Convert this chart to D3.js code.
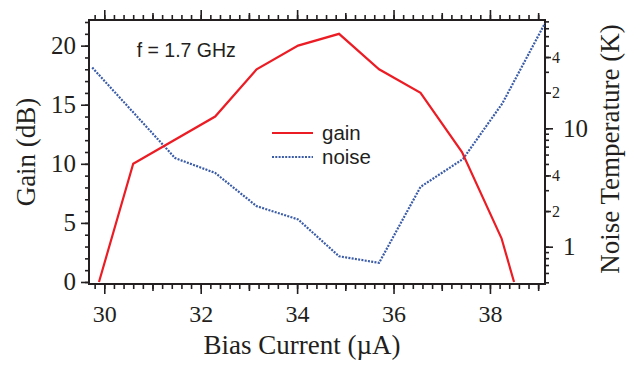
<!DOCTYPE html>
<html>
<head>
<meta charset="utf-8">
<script src="https://cdn.jsdelivr.net/npm/d3@7"></script>
<style>
	body { margin: 0; background: #fff; }
	svg { display: block; }
	.serif { font-family: "Liberation Serif", "Times New Roman", serif; fill: #231f20; }
	.sans { font-family: "Liberation Sans", Arial, sans-serif; fill: #231f20; }
</style>
</head>
<body>
<div id="chart"></div>
<script>
// bias current (uA) for the gain curve, and gain (dB)
const gainBias = [29.89, 30.60, 32.30, 33.16, 34.02, 34.87, 35.70, 36.56, 37.42, 38.24, 38.50];
const gainDb = [0, 10, 14, 18, 20, 21, 18, 16, 11, 3.7, 0];

// bias current (uA) for the noise curve, and noise temperature (K)
const noiseBias = [29.75, 31.47, 32.30, 33.16, 34.02, 34.87, 35.70, 36.56, 37.44, 38.26, 39.14];
const noiseK = [32.6, 5.6, 4.2, 2.2, 1.7, 0.83, 0.73, 3.2, 5.5, 16.3, 77];

const xTicks = [30, 32, 34, 36, 38];
const gainTicks = [0, 5, 10, 15, 20];
const noiseBigTicks = [1, 10];
const noiseSmallTicks = [2, 4, 20, 40];

const W = 634, H = 366;
const margin = { top: 20, right: 89, bottom: 82, left: 89 };
const width = W - margin.left - margin.right;
const height = H - margin.top - margin.bottom;
const ink = "#231f20";

const svg = d3.select("#chart").append("svg")
	.attr("width", W)
	.attr("height", H);

const x = d3.scaleLinear().domain([29.683, 39.142]).range([0, width]);
const yGain = d3.scaleLinear().domain([-0.17, 22.17]).range([height, 0]);
const yNoise = d3.scaleLog().domain([0.484, 82.2]).range([height, 0]);

const g = svg.append("g")
	.attr("transform", "translate(" + margin.left + "," + margin.top + ")");

// minor tick helpers
let xMinor = d3.range(29.8, 39.1, 0.2).map(function (d) { return +d.toFixed(1); });
let xMid = d3.range(31, 40, 2);
let gainMinor = d3.range(0, 23, 1);
let noiseMinor = [];
[0.1, 1, 10].forEach(function (dec) {
	for (let k = 1; k < 10; k++) {
		let v = +(dec * k).toFixed(2);
		if (v >= 0.484 && v <= 82.2) noiseMinor.push(v);
	}
});

function tickAxis(axisFn, scale, values, size) {
	return axisFn(scale).tickValues(values).tickSize(size).tickFormat("");
}

function styleAxis(sel) {
	sel.select(".domain").remove();
	sel.selectAll("line").attr("stroke", ink).attr("stroke-width", 1.6);
}

// bottom ticks
g.append("g").attr("transform", "translate(0," + height + ")")
	.call(tickAxis(d3.axisBottom, x, xMinor, 5)).call(styleAxis);
g.append("g").attr("transform", "translate(0," + height + ")")
	.call(tickAxis(d3.axisBottom, x, xMid, 7)).call(styleAxis);
g.append("g").attr("transform", "translate(0," + height + ")")
	.call(d3.axisBottom(x).tickValues(xTicks).tickSize(10).tickPadding(11))
	.call(styleAxis)
	.selectAll("text")
	.attr("class", "serif")
	.style("font-size", "24px")
	.attr("fill", ink);

// top ticks (mirror)
g.append("g").call(tickAxis(d3.axisTop, x, xMinor, 5)).call(styleAxis);
g.append("g").call(tickAxis(d3.axisTop, x, xMid, 7)).call(styleAxis);
g.append("g").call(tickAxis(d3.axisTop, x, xTicks, 10)).call(styleAxis);

// left gain axis
g.append("g").call(tickAxis(d3.axisLeft, yGain, gainMinor, 4)).call(styleAxis);
g.append("g")
	.call(d3.axisLeft(yGain).tickValues(gainTicks).tickSize(8).tickPadding(5))
	.call(styleAxis)
	.selectAll("text")
	.attr("class", "serif")
	.style("font-size", "25px")
	.attr("fill", ink);

// right noise axis (log)
g.append("g").attr("transform", "translate(" + width + ",0)")
	.call(tickAxis(d3.axisRight, yNoise, noiseMinor, 4)).call(styleAxis);
g.append("g").attr("transform", "translate(" + width + ",0)")
	.call(d3.axisRight(yNoise).tickValues(noiseSmallTicks).tickSize(6).tickPadding(1)
		.tickFormat(function (d) { return String(d)[0]; }))
	.call(styleAxis)
	.selectAll("text")
	.attr("class", "serif")
	.style("font-size", "16px")
	.attr("fill", ink);
g.append("g").attr("transform", "translate(" + width + ",0)")
	.call(d3.axisRight(yNoise).tickValues(noiseBigTicks).tickSize(8).tickPadding(10)
		.tickFormat(d3.format("d")))
	.call(styleAxis)
	.selectAll("text")
	.attr("class", "serif")
	.style("font-size", "25px")
	.attr("fill", ink);

// frame
g.append("rect")
	.attr("width", width)
	.attr("height", height)
	.attr("fill", "none")
	.attr("stroke", ink)
	.attr("stroke-width", 2);

// curves
let gainPts = gainBias.map(function (b, i) { return [b, gainDb[i]]; });
let noisePts = noiseBias.map(function (b, i) { return [b, noiseK[i]]; });

g.append("path")
	.datum(noisePts)
	.attr("fill", "none")
	.attr("stroke", "#3a5ca8")
	.attr("stroke-width", 2.2)
	.attr("stroke-dasharray", "2,1.3")
	.attr("d", d3.line().x(function (d) { return x(d[0]); }).y(function (d) { return yNoise(d[1]); }));

g.append("path")
	.datum(gainPts)
	.attr("fill", "none")
	.attr("stroke", "#ec1c24")
	.attr("stroke-width", 2.2)
	.attr("stroke-linejoin", "miter")
	.attr("d", d3.line().x(function (d) { return x(d[0]); }).y(function (d) { return yGain(d[1]); }));

// annotation + legend
g.append("text").attr("class", "sans")
	.attr("x", 136.7 - margin.left).attr("y", 56.5 - margin.top)
	.style("font-size", "19.5px")
	.text("f = 1.7 GHz");

let legend = [{ name: "gain", color: "#ec1c24", dash: null }, { name: "noise", color: "#3a5ca8", dash: "2,1.3" }];
legend.forEach(function (d, i) {
	let ly = 133 - margin.top + i * 24;
	g.append("line")
		.attr("x1", 272 - margin.left).attr("x2", 313 - margin.left)
		.attr("y1", ly).attr("y2", ly)
		.attr("stroke", d.color).attr("stroke-width", 2.2)
		.attr("stroke-dasharray", d.dash);
	g.append("text").attr("class", "sans")
		.attr("x", 322 - margin.left).attr("y", ly + 6.5)
		.style("font-size", "20.5px")
		.text(d.name);
});

// axis titles
svg.append("text").attr("class", "serif")
	.attr("text-anchor", "middle")
	.attr("x", margin.left + x(34.1)).attr("y", 354)
	.style("font-size", "27px")
	.text("Bias Current (\u00b5A)");

svg.append("text").attr("class", "serif")
	.attr("text-anchor", "middle")
	.attr("transform", "translate(35,152) rotate(-90)")
	.style("font-size", "27px")
	.text("Gain (dB)");

svg.append("text").attr("class", "serif")
	.attr("text-anchor", "middle")
	.attr("transform", "translate(619,149) rotate(-90)")
	.style("font-size", "27px")
	.text("Noise Temperature (K)");
</script>
</body>
</html>
